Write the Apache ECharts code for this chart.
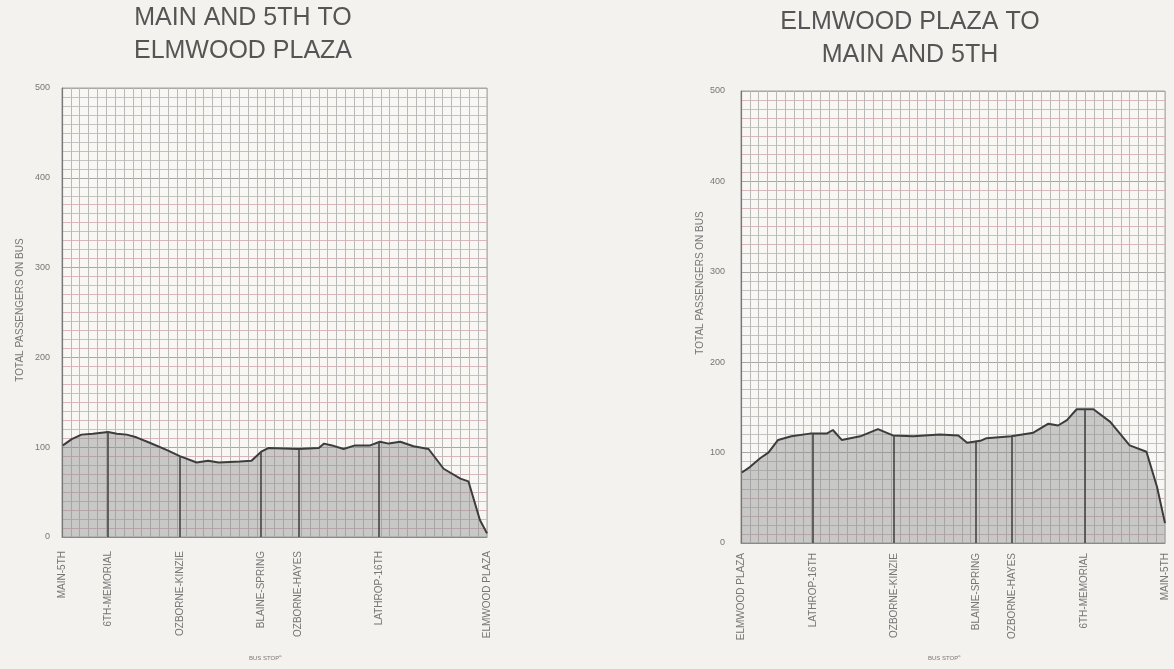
<!DOCTYPE html>
<html>
<head>
<meta charset="utf-8">
<title>Bus load profiles</title>
<script src="https://cdn.jsdelivr.net/npm/echarts@6/dist/echarts.min.js"></script>
<style>
  html, body { margin: 0; padding: 0; background: #f4f2ee; }
  #chart { width: 1174px; height: 669px; }
</style>
</head>
<body>
<div id="chart"></div>
<script>
// outbound: Main and 5th -> Elmwood Plaza (x in graph-paper columns, 0..48)
var outX = [0.1, 1.1, 2.2, 3.5, 5.2, 6.2, 7.3, 8.4, 9.9, 11.8, 13.3, 15.2, 16.5, 17.7, 20.1, 21.4, 22.5, 23.3, 26.7, 29.0, 29.6, 30.5, 31.8, 33.1, 34.8, 35.9, 36.9, 38.2, 39.7, 41.4, 43.1, 45.0, 45.9, 47.2, 48];
var outLoad = [102, 109, 114, 115, 117, 115, 114, 111, 105, 97, 90, 83, 85, 83, 84, 85, 95, 99, 98, 99, 104, 102, 98, 102, 102, 106, 104, 106, 101, 98, 76, 65, 62, 19, 4];
var outStops = ["MAIN-5TH", "6TH-MEMORIAL", "OZBORNE-KINZIE", "BLAINE-SPRING", "OZBORNE-HAYES", "LATHROP-16TH", "ELMWOOD PLAZA"];
var outStopX = [0, 5.2, 13.3, 22.5, 26.7, 35.8, 48];
var outStopLoad = [0, 117, 90, 95, 98, 106, 0];

// inbound: Elmwood Plaza -> Main and 5th
var inX = [0.1, 1.0, 2.2, 3.1, 4.2, 5.7, 7.8, 9.7, 10.4, 11.4, 13.5, 15.5, 17.2, 19.5, 22.5, 24.6, 25.6, 27.1, 27.8, 30.6, 33.1, 34.8, 35.9, 36.9, 38.0, 39.9, 41.8, 44.0, 45.9, 47.1, 48];
var inLoad = [78, 84, 94, 100, 114, 118, 121, 121, 125, 114, 118, 126, 119, 118, 120, 119, 111, 113, 116, 118, 122, 132, 130, 136, 148, 148, 134, 108, 101, 62, 22];
var inStops = ["ELMWOOD PLAZA", "LATHROP-16TH", "OZBORNE-KINZIE", "BLAINE-SPRING", "OZBORNE-HAYES", "6TH-MEMORIAL", "MAIN-5TH"];
var inStopX = [0, 8.15, 17.3, 26.6, 30.7, 38.9, 48];
var inStopLoad = [0, 121, 119, 113, 118, 148, 0];

var yTicks = [0, 100, 200, 300, 400, 500];

function pairs(xs, ys) {
    return xs.map(function (x, i) { return [x, ys[i]]; });
}

function stopLines(xs, ys) {
    var lines = [];
    for (var i = 0; i < xs.length; i++) {
        if (ys[i] > 0) {
            lines.push([{ coord: [xs[i], 0] }, { coord: [xs[i], ys[i]] }]);
        }
    }
    return lines;
}

function nameAt(names, xs) {
    return function (v) {
        var best = 0;
        for (var i = 1; i < xs.length; i++) {
            if (Math.abs(xs[i] - v) < Math.abs(xs[best] - v)) best = i;
        }
        return names[best];
    };
}

var labelColor = '#777';
var hColors = ['#a8a8a8', '#dbb5bc', '#c3c3c3', '#dbb5bc', '#c3c3c3', '#dbb5bc', '#c3c3c3', '#dbb5bc', '#c3c3c3', '#dbb5bc'];

function xAxisFor(idx, names, xs, margin) {
    return {
        type: 'value', gridIndex: idx, min: 0, max: 48, interval: 1,
        axisLine: { show: true, lineStyle: { color: '#8a8a8a', width: 1 } },
        axisTick: { show: false },
        splitLine: { show: true, lineStyle: { color: '#b9b9b9', width: 1 } },
        axisLabel: {
            customValues: xs, rotate: 90, margin: margin,
            fontSize: 10, color: labelColor, fontFamily: 'Liberation Sans',
            formatter: nameAt(names, xs)
        }
    };
}

function yAxisFor(idx, margin) {
    return {
        type: 'value', gridIndex: idx, min: 0, max: 500, interval: 10,
        axisLine: { show: true, lineStyle: { color: '#777', width: 1.2 } },
        axisTick: { show: false },
        splitLine: { show: true, lineStyle: { color: hColors, width: 1 } },
        axisLabel: {
            customValues: yTicks, margin: margin,
            fontSize: 9, color: labelColor, fontFamily: 'Liberation Sans'
        }
    };
}

function loadSeries(idx, xs, ys, sx, sy) {
    return {
        type: 'line', xAxisIndex: idx, yAxisIndex: idx,
        data: pairs(xs, ys),
        symbol: 'none',
        lineStyle: { color: '#3c3c3c', width: 2 },
        areaStyle: { color: '#8f8d8d', opacity: 0.45 },
        markLine: {
            silent: true, symbol: 'none', animation: false,
            label: { show: false },
            lineStyle: { color: '#454545', width: 1.6, type: 'solid' },
            data: stopLines(sx, sy)
        }
    };
}

var titleStyle = { fontFamily: 'Liberation Sans', fontSize: 25, fill: '#555', textAlign: 'center', lineHeight: 33 };
var smallStyle = { fontFamily: 'Liberation Sans', fontSize: 10, fill: labelColor, textAlign: 'center', textVerticalAlign: 'middle' };

function busStop(x) {
    return {
        type: 'text', left: x - 15, top: 654,
        style: {
            text: '{a|BUS STOP}{s|a}',
            rich: {
                a: { fontFamily: 'Liberation Sans', fontSize: 6, fill: labelColor },
                s: { fontFamily: 'Liberation Sans', fontSize: 4, fill: labelColor, padding: [0, 0, 4, 0] }
            }
        }
    };
}

var chart = echarts.init(document.getElementById('chart'));
chart.setOption({
    backgroundColor: '#f4f2ee',
    animation: false,
    grid: [
        { left: 62, top: 88, width: 425, height: 449, show: true, backgroundColor: '#f8f7f4', borderColor: '#a5a5a5', borderWidth: 1 },
        { left: 741, top: 91, width: 424, height: 452, show: true, backgroundColor: '#f8f7f4', borderColor: '#a5a5a5', borderWidth: 1 }
    ],
    xAxis: [
        xAxisFor(0, outStops, outStopX, 14),
        xAxisFor(1, inStops, inStopX, 10)
    ],
    yAxis: [
        yAxisFor(0, 12),
        yAxisFor(1, 16)
    ],
    series: [
        loadSeries(0, outX, outLoad, outStopX, outStopLoad),
        loadSeries(1, inX, inLoad, inStopX, inStopLoad)
    ],
    graphic: [
        { type: 'text', x: 243, y: 2, style: Object.assign({ text: 'MAIN AND 5TH TO\nELMWOOD PLAZA' }, titleStyle) },
        { type: 'text', x: 910, y: 6, style: Object.assign({ text: 'ELMWOOD PLAZA TO\nMAIN AND 5TH' }, titleStyle) },
        { type: 'text', x: 20, y: 310, rotation: Math.PI / 2, style: Object.assign({ text: 'TOTAL PASSENGERS ON BUS' }, smallStyle) },
        { type: 'text', x: 700, y: 283, rotation: Math.PI / 2, style: Object.assign({ text: 'TOTAL PASSENGERS ON BUS' }, smallStyle) },
        busStop(264),
        busStop(943)
    ]
});
</script>
</body>
</html>
